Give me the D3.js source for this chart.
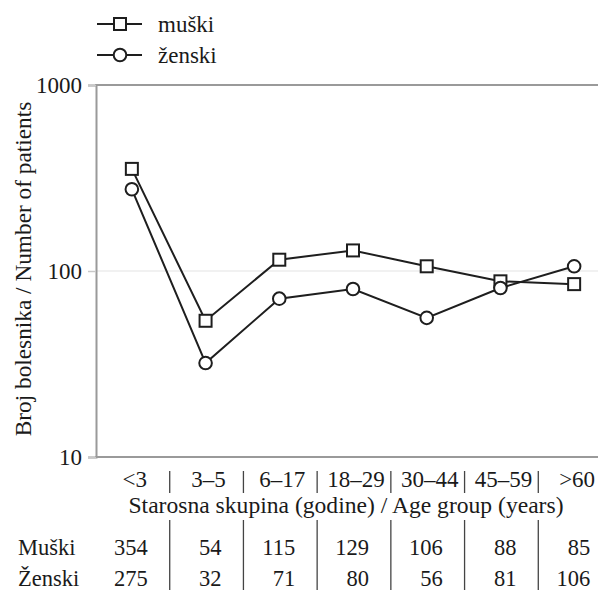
<!DOCTYPE html>
<html>
<head>
<meta charset="utf-8">
<script src="https://cdn.jsdelivr.net/npm/d3@7"></script>
<style>
  html, body { margin: 0; padding: 0; background: #fff; }
  svg { display: block; }
</style>
</head>
<body>
<svg id="chart" width="598" height="590"></svg>
<script>
// Age groups and patient counts by sex
const ageGroups = ["<3", "3–5", "6–17", "18–29", "30–44", "45–59", ">60"];
const muski = [354, 54, 115, 129, 106, 88, 85];
const zenski = [275, 32, 71, 80, 56, 81, 106];
const yTicks = [10, 100, 1000];
const seriesNames = ["muški", "ženski"];
const rowLabels = ["Muški", "Ženski"];

const FONT = "Liberation Serif";
const fontSize = 23;
const ink = "#1e1e1e";
const textInk = "#1a1a1a";

const svg = d3.select("#chart");

// Styled text helper so every label shares the same face
function label(sel, size = fontSize) {
  return sel.attr("font-family", FONT).attr("font-size", size).attr("fill", textInk);
}

const plot = { left: 96, top: 85, bottom: 457, right: 611 };

const x = d3.scaleBand().domain(ageGroups).range([95, 611]).padding(0);
const y = d3.scaleLog().domain([10, 1000]).range([plot.bottom, plot.top]);
const cx = d => x(d) + x.bandwidth() / 2;

// Light reference line at 100
svg.append("line")
  .attr("x1", plot.left).attr("x2", plot.right)
  .attr("y1", y(100)).attr("y2", y(100))
  .attr("stroke", "#ececec").attr("stroke-width", 1.5);

// Frame: top and bottom edges
const frame = svg.append("g").attr("stroke", "#9a9a9a").attr("stroke-width", 2).attr("fill", "none");
frame.append("line").attr("x1", plot.left - 1).attr("x2", plot.right).attr("y1", plot.top).attr("y2", plot.top);
frame.append("line").attr("x1", plot.left - 1).attr("x2", plot.right).attr("y1", plot.bottom).attr("y2", plot.bottom);

// Left log axis
const yAxis = d3.axisLeft(y).tickValues(yTicks).tickFormat(d3.format("d")).tickSize(8).tickPadding(6);
const gy = svg.append("g").attr("transform", `translate(${plot.left},0)`).call(yAxis);
gy.attr("font-family", FONT).attr("font-size", fontSize);
gy.select(".domain").attr("stroke", "#9a9a9a").attr("stroke-width", 2);
gy.selectAll(".tick line").attr("stroke", "#c8c8c8").attr("stroke-width", 1.5);
label(gy.selectAll(".tick text"));

// Y axis title
label(svg.append("text"), 23.3)
  .attr("transform", `translate(31,${(plot.top + plot.bottom) / 2 - 2}) rotate(-90)`)
  .attr("text-anchor", "middle")
  .text("Broj bolesnika / Number of patients");

// Series lines and markers
const line = d3.line().x((d, i) => cx(ageGroups[i])).y(d => y(d));

[muski, zenski].forEach(vals => {
  svg.append("path").datum(vals)
    .attr("d", line).attr("fill", "none")
    .attr("stroke", ink).attr("stroke-width", 2);
});

const mSize = 12;
svg.append("g").selectAll("rect").data(muski).join("rect")
  .attr("x", (d, i) => cx(ageGroups[i]) - mSize / 2)
  .attr("y", d => y(d) - mSize / 2)
  .attr("width", mSize).attr("height", mSize)
  .attr("fill", "#fff").attr("stroke", ink).attr("stroke-width", 2);

svg.append("g").selectAll("circle").data(zenski).join("circle")
  .attr("cx", (d, i) => cx(ageGroups[i]))
  .attr("cy", d => y(d))
  .attr("r", 6.3)
  .attr("fill", "#fff").attr("stroke", ink).attr("stroke-width", 2);

// Legend
const legend = svg.append("g");
[0, 1].forEach(k => {
  const ly = 24 + k * 31;
  legend.append("line").attr("x1", 97).attr("x2", 142).attr("y1", ly).attr("y2", ly)
    .attr("stroke", ink).attr("stroke-width", 2);
  if (k === 0) {
    legend.append("rect").attr("x", 120 - mSize / 2).attr("y", ly - mSize / 2)
      .attr("width", mSize).attr("height", mSize)
      .attr("fill", "#fff").attr("stroke", ink).attr("stroke-width", 2);
  } else {
    legend.append("circle").attr("cx", 120).attr("cy", ly).attr("r", 6.3)
      .attr("fill", "#fff").attr("stroke", ink).attr("stroke-width", 2);
  }
  label(legend.append("text")).attr("x", 158).attr("y", ly + 8).text(seriesNames[k]);
});

// Category labels under the axis
label(svg.append("g").selectAll("text").data(ageGroups).join("text"))
  .attr("x", d => cx(d) + 3).attr("y", 487)
  .attr("text-anchor", "middle")
  .text(d => d);

// Separators between categories
const bounds = ageGroups.slice(1).map(d => x(d));
svg.append("g").selectAll("line").data(bounds).join("line")
  .attr("x1", d => d + 1).attr("x2", d => d + 1)
  .attr("y1", 471).attr("y2", 493)
  .attr("stroke", "#444").attr("stroke-width", 1.3);
svg.append("g").selectAll("line").data(bounds).join("line")
  .attr("x1", d => d + 1).attr("x2", d => d + 1)
  .attr("y1", 520).attr("y2", 590)
  .attr("stroke", "#444").attr("stroke-width", 1.3);

// X axis title
label(svg.append("text"), 23.6)
  .attr("x", 346).attr("y", 513)
  .attr("text-anchor", "middle")
  .text("Starosna skupina (godine) / Age group (years)");

// Value table
const rows = [muski, zenski];
const rowY = [555, 586];
rows.forEach((vals, r) => {
  label(svg.append("text"), 22.5).attr("x", 18).attr("y", rowY[r]).text(rowLabels[r]);
  label(svg.append("g").selectAll("text").data(vals).join("text"), 22.5)
    .attr("x", (d, i) => cx(ageGroups[i]) + 16)
    .attr("y", rowY[r])
    .attr("text-anchor", "end")
    .text(d => d);
});
</script>
</body>
</html>
